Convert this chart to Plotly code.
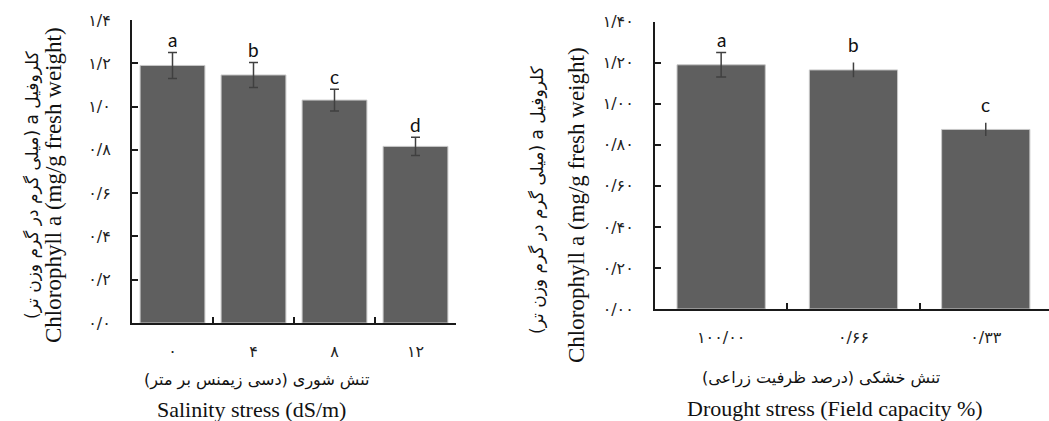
import plotly.graph_objects as go

# ---------------- data ----------------
sal_categories = ["۰", "۴", "۸", "۱۲"]
sal_values = [1.19, 1.146, 1.03, 0.816]
sal_errors = [0.06, 0.058, 0.05, 0.042]
sal_letters = ["a", "b", "c", "d"]

dr_categories = ["۱۰۰/۰۰", "۰/۶۶", "۰/۳۳"]
dr_values = [1.19, 1.165, 0.875]
dr_errors = [0.06, 0.036, 0.032]
dr_letters = ["a", "b", "c"]

sal_yticks = [0, 0.2, 0.4, 0.6, 0.8, 1.0, 1.2, 1.4]
sal_yticktext = ["۰/۰", "۰/۲", "۰/۴", "۰/۶", "۰/۸", "۱/۰", "۱/۲", "۱/۴"]
dr_yticks = [0, 0.2, 0.4, 0.6, 0.8, 1.0, 1.2, 1.4]
dr_yticktext = ["۰/۰۰", "۰/۲۰", "۰/۴۰", "۰/۶۰", "۰/۸۰", "۱/۰۰", "۱/۲۰", "۱/۴۰"]

RLE, PDF = "\u202b", "\u202c"
ytitle_fa = RLE + "کلروفیل a (میلی گرم در گرم وزن تر)" + PDF
ytitle_en = "Chlorophyll a (mg/g fresh weight)"
sal_xtitle_fa = RLE + "تنش شوری (دسی زیمنس بر متر)" + PDF
sal_xtitle_en = "Salinity stress (dS/m)"
dr_xtitle_fa = RLE + "تنش خشکی (درصد ظرفیت زراعی)" + PDF
dr_xtitle_en = "Drought stress (Field capacity %)"

# ---------------- style ----------------
W, H = 1049, 421
BAR = "#5f5f5f"
EDGE = "#c8c8c8"
ERR = "#404040"
AX = "#1a1a1a"
FA_FONT = "DejaVu Sans"
EN_FONT = "Liberation Serif"
LET_FONT = "Lato"


def px(x):
    return x / W


def py(y):
    return 1 - y / H


fig = go.Figure()

# left chart bars
fig.add_trace(go.Bar(
    x=sal_categories, y=sal_values, width=0.8,
    marker=dict(color=BAR, line=dict(color=EDGE, width=1)),
    error_y=dict(type="data", array=sal_errors, visible=True,
                 color=ERR, thickness=1.5, width=4.5),
    xaxis="x", yaxis="y", hoverinfo="skip",
))

# right chart bars (first with caps, others without top caps)
fig.add_trace(go.Bar(
    x=dr_categories[:1], y=dr_values[:1], width=0.667,
    marker=dict(color=BAR, line=dict(color=EDGE, width=1)),
    error_y=dict(type="data", array=dr_errors[:1], visible=True,
                 color=ERR, thickness=1.5, width=5),
    xaxis="x2", yaxis="y2", hoverinfo="skip",
))
fig.add_trace(go.Bar(
    x=dr_categories[1:], y=dr_values[1:], width=0.667,
    marker=dict(color=BAR, line=dict(color=EDGE, width=1)),
    error_y=dict(type="data", array=dr_errors[1:], visible=True,
                 color=ERR, thickness=1.5, width=0),
    xaxis="x2", yaxis="y2", hoverinfo="skip",
))

annotations = []
for c, v, e, l in zip(sal_categories, sal_values, sal_errors, sal_letters):
    annotations.append(dict(x=c, y=v + e, xref="x", yref="y", text=l,
                            showarrow=False, yanchor="bottom", yshift=-1,
                            font=dict(family=LET_FONT, size=19, color="#111")))
dr_shift = [-1, 5, 5]
for c, v, e, l, s in zip(dr_categories, dr_values, dr_errors, dr_letters, dr_shift):
    annotations.append(dict(x=c, y=v + e, xref="x2", yref="y2", text=l,
                            showarrow=False, yanchor="bottom", yshift=s,
                            font=dict(family=LET_FONT, size=19, color="#111")))

# axis titles as annotations
def title(text, x, y, font, size, angle=0):
    annotations.append(dict(text=text, x=px(x), y=py(y), xref="paper", yref="paper",
                            showarrow=False, xanchor="center", yanchor="middle",
                            textangle=angle, font=dict(family=font, size=size, color="#111")))

title(ytitle_fa, 32, 185, FA_FONT, 17, -90)
title(ytitle_en, 53, 185, EN_FONT, 23, -90)
title(sal_xtitle_fa, 257, 380, FA_FONT, 16)
title(sal_xtitle_en, 251, 409, EN_FONT, 22)

title(ytitle_fa, 537, 200, FA_FONT, 17, -90)
title(ytitle_en, 576, 205, EN_FONT, 23, -90)
title(dr_xtitle_fa, 821, 378, FA_FONT, 16)
title(dr_xtitle_en, 835, 408, EN_FONT, 22)

common_x = dict(type="category", showline=True, linecolor=AX, linewidth=2,
                ticks="inside", ticklen=6, tickwidth=1.5, tickcolor=AX,
                tickson="boundaries", showgrid=False, zeroline=False,
                automargin=False, fixedrange=True,
                tickfont=dict(family=FA_FONT, size=16, color="#222"))
common_y = dict(showline=True, linecolor=AX, linewidth=2, ticks="inside",
                ticklen=6, tickwidth=1.5, tickcolor=AX, showgrid=False,
                zeroline=False, automargin=False, range=[0, 1.4],
                fixedrange=True, tickfont=dict(family=FA_FONT, size=16, color="#222"))

fig.update_layout(
    width=W, height=H, autosize=False,
    margin=dict(l=0, r=0, t=0, b=0, pad=0),
    paper_bgcolor="white", plot_bgcolor="white",
    showlegend=False, barmode="overlay",
    xaxis=dict(common_x, domain=[px(132), px(456)], range=[-0.5, 3.5],
               categoryorder="array", categoryarray=sal_categories,
               anchor="y", ticklabelstandoff=13),
    yaxis=dict(common_y, domain=[py(323), py(20)], anchor="x",
               tickvals=sal_yticks, ticktext=sal_yticktext, ticklabelstandoff=16),
    xaxis2=dict(common_x, domain=[px(655), 1.0], range=[-0.5, 2.478],
                categoryorder="array", categoryarray=dr_categories,
                anchor="y2", ticklabelstandoff=13),
    yaxis2=dict(common_y, domain=[py(309), py(21.7)], anchor="x2",
                tickvals=dr_yticks, ticktext=dr_yticktext, ticklabelstandoff=16),
    annotations=annotations,
)

fig.write_html("out.html")
